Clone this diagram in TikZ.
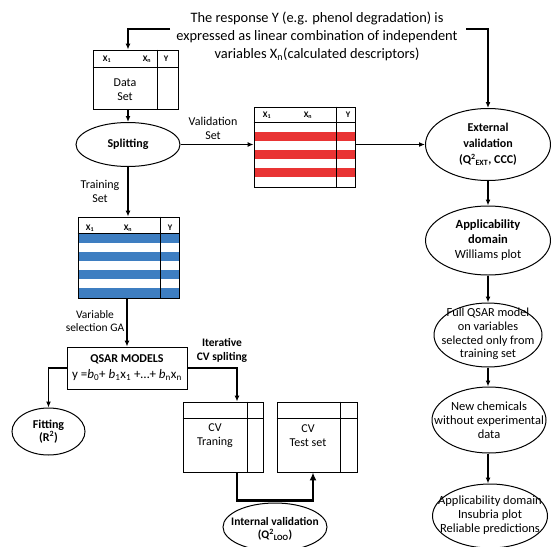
\documentclass[tikz,border=0pt]{standalone}
\usepackage{fontspec}
\setmainfont{Carlito}
\usetikzlibrary{positioning, arrows.meta, shapes.geometric, calc, backgrounds}
\definecolor{StripeBlue}{RGB}{62,126,193}
\definecolor{StripeRed}{RGB}{233,52,52}
\tikzstyle{arrow} = [line width=1.3pt, -{Latex[length=6pt,width=5pt]}]
\tikzstyle{bigarrow} = [line width=2.2pt, -{Latex[length=8pt,width=7pt]}]
\tikzset{
  tablebox/.style={rectangle, draw, line width=0.9pt, inner sep=0pt},
  stage/.style={ellipse, draw, line width=1pt, inner sep=0pt},
  modelbox/.style={rectangle, draw, line width=0.9pt, inner sep=0pt},
  note/.style={align=center, inner sep=0pt, font=\fontsize{12}{14}\selectfont},
  head/.style={inner sep=0pt, font=\fontsize{8.5}{9}\selectfont\bfseries}
}
\begin{document}
\begin{tikzpicture}[x=1pt, y=-1pt]
  \clip (0,0) rectangle (551,546);

  % Response text
  \node[note, font=\fontsize{14.4}{18}\selectfont] (resp) at (317,36)
    {The response Y (e.g. phenol degradation) is\\
     expressed as linear combination of independent\\
     variables X\textsubscript{n}(calculated descriptors)};
  \coordinate (respL) at (170,29);
  \coordinate (respR) at (466,29);

  % Data set
  \node[tablebox, minimum width=85pt, minimum height=59pt] (data) at (135.5,79.5) {};
  \draw[line width=0.9pt] ($(data.north west)+(0,18)$) -- ($(data.north east)+(0,18)$);
  \draw[line width=0.9pt] ($(data.north east)+(-21,0)$) -- ($(data.south east)+(-21,0)$);
  \node[head] (dx1) at (107,59) {X\textsubscript{1}};
  \node[head] (dxn) at (147,59) {X\textsubscript{n}};
  \node[head] (dy) at (166,59) {Y};
  \node[note] (datatxt) at (125,90) {Data\\Set};

  % Splitting
  \node[stage, minimum width=104pt, minimum height=44pt] (split) at (128,144.5) {};
  \node[note, font=\fontsize{12}{14}\selectfont\bfseries] (splittxt) at (split) {Splitting};

  % Validation set
  \node[tablebox, minimum width=101pt, minimum height=80pt] (val) at (304.5,147) {};
  \begin{scope}[on background layer]
    \foreach \i in {1,3,5}
      \fill[StripeRed] ($(val.north west)+(0,16+\i*9.143)$) rectangle ($(val.north east)+(1,16+\i*9.143+9.143)$);
  \end{scope}
  \draw[line width=0.9pt] ($(val.north west)+(0,16)$) -- ($(val.north east)+(0,16)$);
  \draw[line width=0.9pt] ($(val.north east)+(-19,0)$) -- ($(val.south east)+(-19,0)$);
  \node[head] (vx1) at (267,115) {X\textsubscript{1}};
  \node[head] (vxn) at (308,115) {X\textsubscript{n}};
  \node[head] (vy) at (348,115) {Y};
  \node[note] (valtxt) at (213,128) {Validation\\Set};

  % Training set
  \node[tablebox, minimum width=101pt, minimum height=81pt] (train) at (128.5,257.5) {};
  \begin{scope}[on background layer]
    \foreach \i in {0,2,4,6}
      \fill[StripeBlue] ($(train.north west)+(0,17+\i*9.143)$) rectangle ($(train.north east)+(0,17+\i*9.143+9.143)$);
  \end{scope}
  \draw[line width=0.9pt] ($(train.north west)+(0,17)$) -- ($(train.north east)+(0,17)$);
  \draw[line width=0.9pt] ($(train.north east)+(-19,0)$) -- ($(train.south east)+(-19,0)$);
  \node[head] (tx1) at (90,228) {X\textsubscript{1}};
  \node[head] (txn) at (128,228) {X\textsubscript{n}};
  \node[head] (ty) at (170,228) {Y};
  \node[note] (traintxt) at (100,191) {Training\\Set};

  % QSAR models
  \node[modelbox, minimum width=120pt, minimum height=42pt] (qsar) at (127,368) {};
  \node[note, font=\fontsize{12}{16}\selectfont] (qsartxt) at (qsar)
    {\textbf{QSAR MODELS}\\
     \fontsize{13}{16}\selectfont y =\textit{b}\textsubscript{0}+ \textit{b}\textsubscript{1}x\textsubscript{1} +\ldots+ \textit{b}\textsubscript{n}x\textsubscript{n}};
  \node[note, font=\fontsize{11.5}{13}\selectfont] (vartxt) at (95,321) {Variable\\selection GA};
  \node[note, font=\fontsize{11.5}{14}\selectfont\bfseries] (itertxt) at (222,350) {Iterative\\CV spliting};

  % Fitting
  \node[stage, minimum width=73pt, minimum height=47pt] (fit) at (48.5,431.5) {};
  \node[note, font=\fontsize{12}{12.5}\selectfont\bfseries] (fittxt) at (fit) {Fitting\\(R\textsuperscript{2})};

  % CV tables
  \node[tablebox, minimum width=80pt, minimum height=70pt] (cvtrain) at (223,437) {};
  \draw[line width=0.9pt] ($(cvtrain.north west)+(0,17)$) -- ($(cvtrain.north east)+(0,17)$);
  \draw[line width=0.9pt] ($(cvtrain.north east)+(-16,0)$) -- ($(cvtrain.south east)+(-16,0)$);
  \node[note] (cvtraintxt) at (215,436) {CV\\Traning};
  \node[tablebox, minimum width=80pt, minimum height=70pt] (cvtest) at (317,437) {};
  \draw[line width=0.9pt] ($(cvtest.north west)+(0,17)$) -- ($(cvtest.north east)+(0,17)$);
  \draw[line width=0.9pt] ($(cvtest.north east)+(-17,0)$) -- ($(cvtest.south east)+(-17,0)$);
  \node[note] (cvtesttxt) at (308,436) {CV\\Test set};

  % Internal validation
  \node[stage, minimum width=104pt, minimum height=48pt] (intval) at (275,527) {};
  \node[note, font=\fontsize{11.5}{12.5}\selectfont\bfseries] (intvaltxt) at (275,529)
    {Internal validation\\(Q\textsuperscript{2}\textsubscript{LOO})};

  % Right column
  \node[stage, minimum width=125pt, minimum height=72pt] (ext) at (488,144.5) {};
  \node[note, font=\fontsize{12}{16}\selectfont\bfseries] (exttxt) at (ext)
    {External\\validation\\(Q\textsuperscript{2}\textsubscript{EXT}, CCC)};
  \node[stage, minimum width=125pt, minimum height=69pt] (appl) at (488,240.5) {};
  \node[note, font=\fontsize{12.5}{15}\selectfont] (appltxt) at (appl)
    {\textbf{Applicability}\\\textbf{domain}\\Williams plot};
  \node[stage, minimum width=108pt, minimum height=64pt] (full) at (488,335) {};
  \node[note, font=\fontsize{12.3}{13.8}\selectfont] (fulltxt) at (488,334)
    {Full QSAR model\\on variables\\selected only from\\training set};
  \node[stage, minimum width=114pt, minimum height=66pt] (newchem) at (489,420) {};
  \node[note, font=\fontsize{12.5}{14}\selectfont] (newchemtxt) at (newchem)
    {New chemicals\\without experimental\\data};
  \node[stage, minimum width=115pt, minimum height=64pt] (pred) at (490,516) {};
  \node[note, font=\fontsize{12.5}{14}\selectfont] (predtxt) at (490,515)
    {Applicability domain\\Insubria plot\\Reliable predictions};

  % Connectors
  \draw[arrow] (respL) -| (split |- data.north);
  \draw[arrow] (respR) -| (ext.north);
  \draw[arrow] (split |- data.south) -- (split.north);
  \draw[arrow] (split.east) -- (split.east -| val.west);
  \draw[arrow] (split.east -| val.east) -- (ext.west);
  \draw[arrow] (split.south) -- (split |- train.north);
  \draw[arrow] (qsar |- train.south) -- (qsar.north);
  \draw[arrow] (qsar.west) -| (fit.north);
  \draw[arrow] (qsar.east) -| ($(cvtrain.north)+(14,0)$);
  \draw[bigarrow] ($(cvtrain.south)+(14,0)$) -- ++(0,28) -| ($(cvtest.south)+(-4,0)$);
  \draw[arrow] (ext.south) -- (appl.north);
  \draw[arrow] (appl.south) -- (full.north);
  \draw[arrow] (full.south) -- (full.south |- newchem.north);
  \draw[arrow] (full.south |- newchem.south) -- (full.south |- pred.north);
\end{tikzpicture}
\end{document}
